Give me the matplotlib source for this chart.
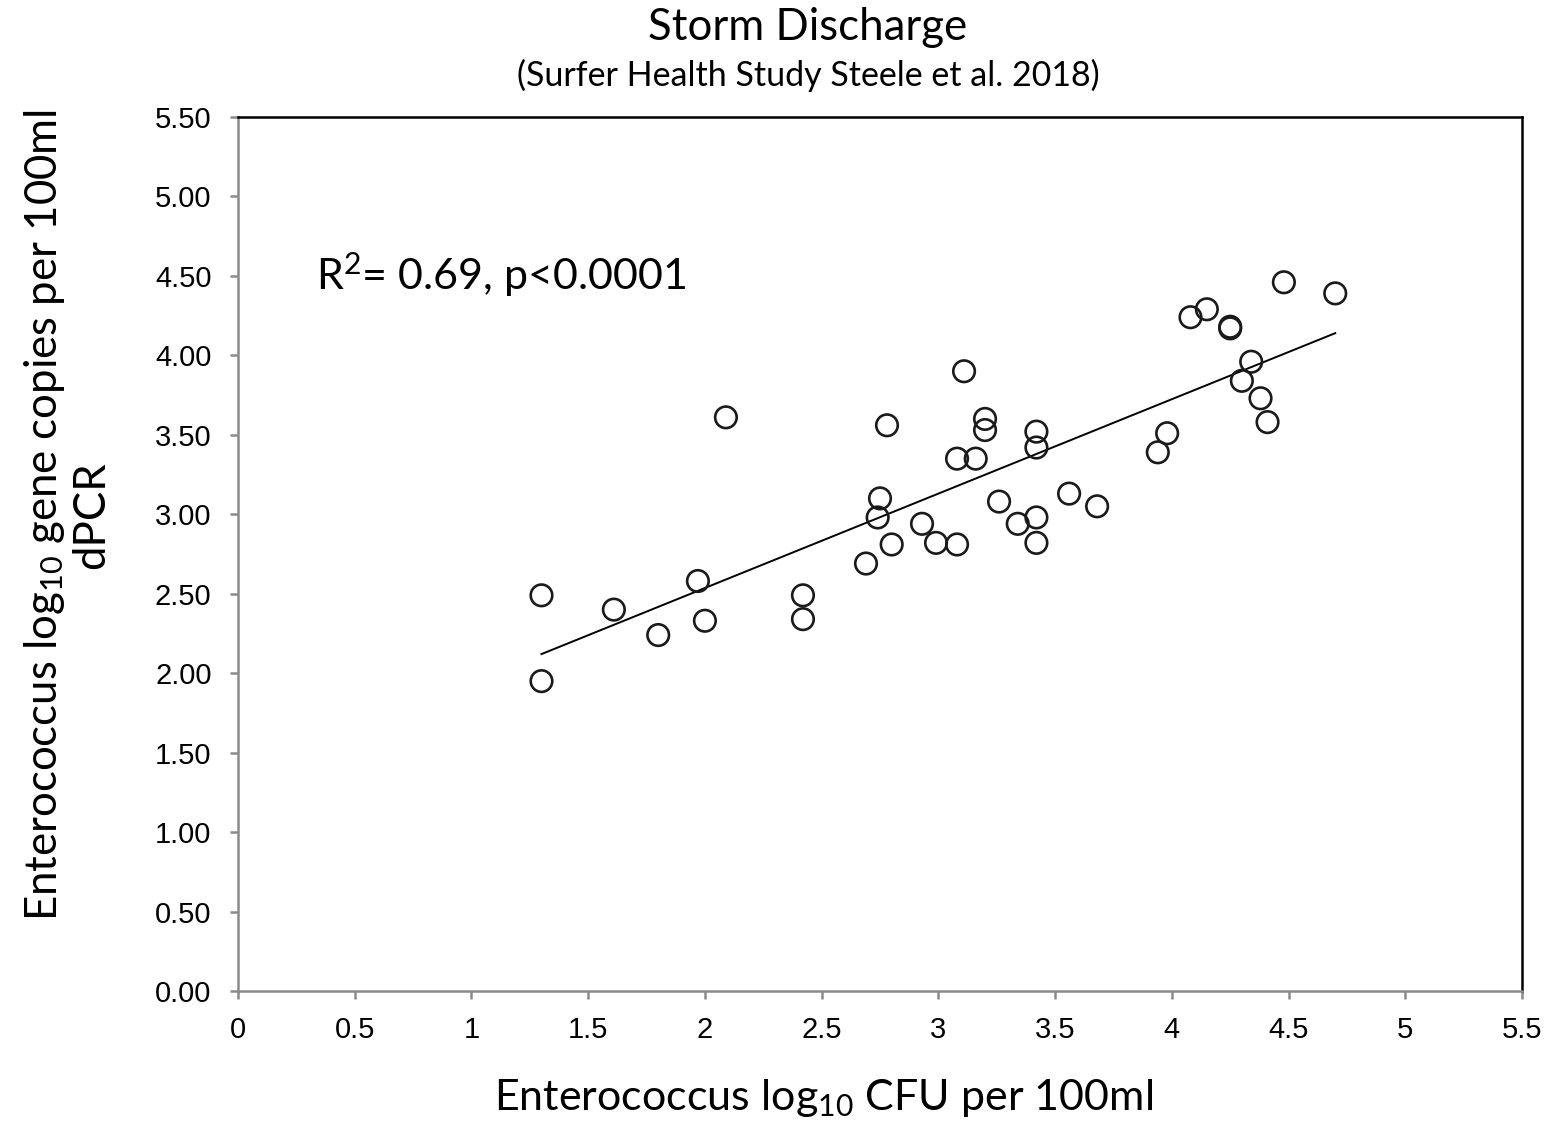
import matplotlib
matplotlib.use("Agg")
import matplotlib.pyplot as plt
import numpy as np

# Data
cfu_log10 = [1.30, 1.30, 1.61, 1.80, 1.97, 2.00, 2.09, 2.42, 2.42, 2.69,
             2.74, 2.75, 2.78, 2.80, 2.93, 2.99, 3.08, 3.08, 3.11, 3.16,
             3.20, 3.20, 3.26, 3.34, 3.42, 3.42, 3.42, 3.42, 3.56, 3.68,
             3.94, 3.98, 4.08, 4.15, 4.25, 4.25, 4.30, 4.34, 4.38, 4.41,
             4.48, 4.70]
dpcr_log10 = [2.49, 1.95, 2.40, 2.24, 2.58, 2.33, 3.61, 2.49, 2.34, 2.69,
              2.98, 3.10, 3.56, 2.81, 2.94, 2.82, 2.81, 3.35, 3.90, 3.35,
              3.60, 3.53, 3.08, 2.94, 3.52, 3.42, 2.98, 2.82, 3.13, 3.05,
              3.39, 3.51, 4.24, 4.29, 4.18, 4.17, 3.84, 3.96, 3.73, 3.58,
              4.46, 4.39]
fit_x_range = [1.30, 4.70]
fit_slope = 0.594
fit_intercept = 1.348

x_ticks = [0, 0.5, 1, 1.5, 2, 2.5, 3, 3.5, 4, 4.5, 5, 5.5]
x_ticklabels = ["0", "0.5", "1", "1.5", "2", "2.5", "3", "3.5", "4", "4.5", "5", "5.5"]
y_ticks = [0, 0.5, 1, 1.5, 2, 2.5, 3, 3.5, 4, 4.5, 5, 5.5]
y_ticklabels = ["%.2f" % v for v in y_ticks]

title = "Storm Discharge"
subtitle = "(Surfer Health Study Steele et al. 2018)"
xlabel = "Enterococcus log$_{10}$ CFU per 100ml"
ylabel = "Enterococcus log$_{10}$ gene copies per 100ml\ndPCR"
annot = "R$^2$= 0.69, p<0.0001"

label_font = "Lato"
tick_font = "Liberation Sans"
plt.rcParams["mathtext.fontset"] = "custom"
plt.rcParams["mathtext.rm"] = label_font
plt.rcParams["mathtext.it"] = label_font
plt.rcParams["mathtext.bf"] = label_font
plt.rcParams["mathtext.default"] = "regular"

fig = plt.figure(figsize=(15.5, 11.25), dpi=100)
ax = fig.add_axes([238/1550, 134/1125, (1522-238)/1550, (991-117)/1125])

ax.scatter(cfu_log10, dpcr_log10, s=15.5**2, facecolors="none",
           edgecolors="#1a1a1a", linewidths=1.9, zorder=3)
fx = np.array(fit_x_range)
ax.plot(fx, fit_slope*fx + fit_intercept, color="black", lw=1.4, zorder=2)

ax.set_xlim(0, 5.5)
ax.set_ylim(0, 5.5)
ax.set_xticks(x_ticks)
ax.set_xticklabels(x_ticklabels, fontname=tick_font, fontsize=21)
ax.set_yticks(y_ticks)
ax.set_yticklabels(y_ticklabels, fontname=tick_font, fontsize=21)
ax.tick_params(direction="out", length=6, width=1.8, color="#8a8a8a")
ax.tick_params(axis="y", pad=13)
ax.tick_params(axis="x", pad=12)

for side in ["left", "bottom"]:
    ax.spines[side].set_color("#8a8a8a")
    ax.spines[side].set_linewidth(1.8)
for side in ["top", "right"]:
    ax.spines[side].set_color("black")
    ax.spines[side].set_linewidth(1.8)

ax.text(0.334, 4.51, annot, fontname=label_font, fontsize=31, va="center", ha="left")

fig.text(808/1550, 1 - 27/1125, title, fontname=label_font, fontsize=31.5,
         ha="center", va="center")
fig.text(808/1550, 1 - 75/1125, subtitle, fontname=label_font, fontsize=24.5,
         ha="center", va="center")
fig.text(824/1550, 1 - 1098/1125, xlabel, fontname=label_font, fontsize=31,
         ha="center", va="center")
fig.text(67/1550, 1 - 515/1125, ylabel, fontname=label_font, fontsize=31.5,
         ha="center", va="center", rotation=90, multialignment="center",
         linespacing=1.1)

fig.savefig("out.png", dpi=100)
